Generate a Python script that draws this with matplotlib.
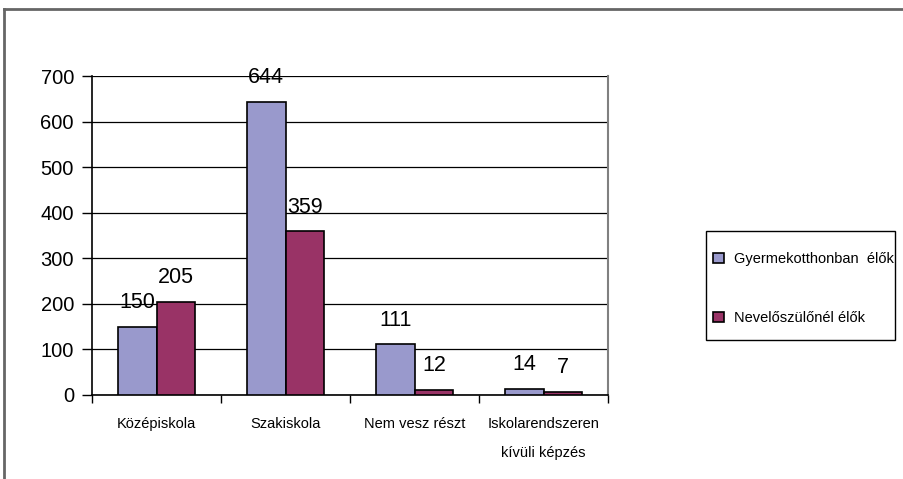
import matplotlib
matplotlib.use("Agg")
import matplotlib.pyplot as plt
from matplotlib.lines import Line2D
from matplotlib.patches import Rectangle
import numpy as np

categories = ["Középiskola", "Szakiskola", "Nem vesz részt", "Iskolarendszeren\nkívüli képzés"]
series_names = ["Gyermekotthonban  élők", "Nevelőszülőnél élők"]
gyermekotthon = [150, 644, 111, 14]
nevelo = [205, 359, 12, 7]
yticks = [0, 100, 200, 300, 400, 500, 600, 700]

plt.rcParams['font.family'] = ['Liberation Sans', 'DejaVu Sans']

fig = plt.figure(figsize=(9.04, 4.79), dpi=100)
ax = fig.add_axes([92/904, 1-395/479, (608-92)/904, (395-76)/479])

x = np.arange(len(categories))
w = 0.3
colors = ["#9999CC", "#993366"]
b1 = ax.bar(x - w/2, gyermekotthon, w, color=colors[0], edgecolor="black", linewidth=1.2, label=series_names[0], zorder=3)
b2 = ax.bar(x + w/2, nevelo, w, color=colors[1], edgecolor="black", linewidth=1.2, label=series_names[1], zorder=3)

for bars in (b1, b2):
    for r in bars:
        ax.annotate(f"{int(r.get_height())}", (r.get_x() + r.get_width()/2, r.get_height()),
                    xytext=(0, 10), textcoords="offset points", ha="center", va="bottom",
                    fontsize=15.5, zorder=4)

ax.set_xlim(-0.5, len(categories) - 0.5)
ax.set_ylim(0, 700)
ax.set_yticks(yticks)
ax.set_yticklabels([str(v) for v in yticks], fontsize=14.5)
ax.yaxis.grid(True, color="black", linewidth=0.9, zorder=0)
ax.set_axisbelow(True)

ax.set_xticks(x)
ax.set_xticklabels(categories, fontsize=10.5, linespacing=2.3, va="top")
ax.tick_params(axis="x", which="major", length=0, pad=16)
ax.set_xticks(np.arange(-0.5, len(categories), 1), minor=True)
ax.tick_params(axis="x", which="minor", length=6, direction="out", width=1)
ax.tick_params(axis="y", length=7, direction="out", width=1, pad=6)

ax.spines["top"].set_visible(False)
ax.spines["right"].set_color("#808080")
ax.spines["right"].set_linewidth(1.5)
ax.spines["left"].set_linewidth(1.2)
ax.spines["bottom"].set_linewidth(1.2)

# legend frame
fig.add_artist(Rectangle((706/904, 1-340/479), (895-706)/904, (340-231)/479,
                         transform=fig.transFigure, fill=False, edgecolor="black", linewidth=1.0))
leg = fig.legend(handles=[b1, b2], labels=series_names, loc="upper left",
                 bbox_to_anchor=(713/904, 1-252/479), frameon=False,
                 fontsize=10.5, handlelength=0.75, handleheight=0.75,
                 labelspacing=3.1, borderpad=0, handletextpad=0.7, borderaxespad=0)

# outer frame
fig.add_artist(Line2D([4/904, 1.0], [1-9/479, 1-9/479], transform=fig.transFigure, color="#666666", linewidth=2))
fig.add_artist(Line2D([4/904, 4/904], [0, 1-9/479], transform=fig.transFigure, color="#666666", linewidth=2))

fig.savefig("out.png", dpi=100)
